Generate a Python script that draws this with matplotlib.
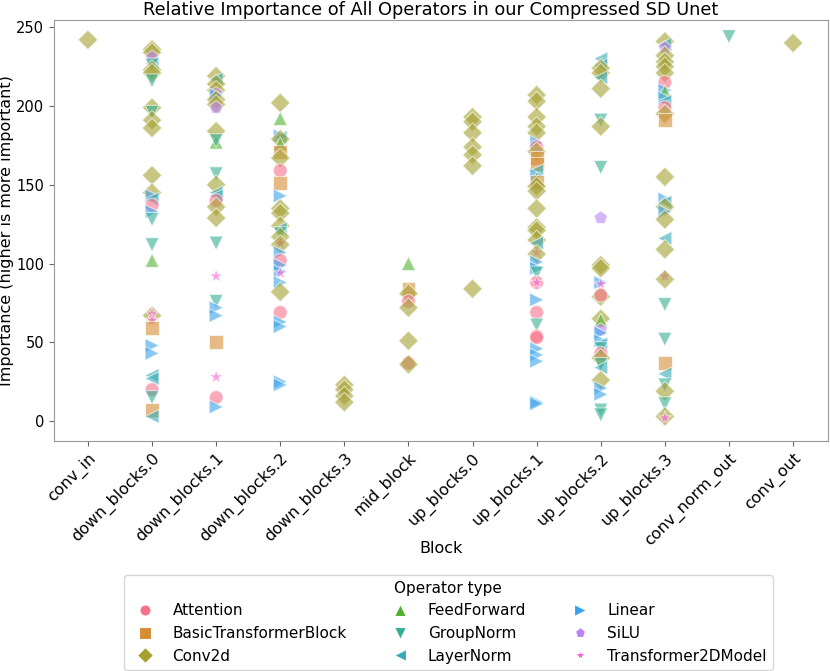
import pandas as pd
import matplotlib
matplotlib.use("Agg")
import matplotlib.pyplot as plt
import seaborn as sns

blocks = ["conv_in", "down_blocks.0", "down_blocks.1", "down_blocks.2", "down_blocks.3",
          "mid_block", "up_blocks.0", "up_blocks.1", "up_blocks.2", "up_blocks.3",
          "conv_norm_out", "conv_out"]

op_types = ["Attention", "BasicTransformerBlock", "Conv2d", "FeedForward", "GroupNorm",
            "LayerNorm", "Linear", "SiLU", "Transformer2DModel"]
short = dict(A="Attention", B="BasicTransformerBlock", C="Conv2d", F="FeedForward",
             G="GroupNorm", L="LayerNorm", Li="Linear", S="SiLU", T="Transformer2DModel")

# operators per block (short codes) and their importance
conv_in_ops = ["C"]
conv_in_vals = [242]

down0_ops = ["C", "C", "S", "L", "G", "C", "C", "G", "C", "G", "C", "C", "C", "C", "Li", "L", "A",
             "Li", "G", "G", "F", "C", "T", "T", "B", "Li", "Li", "L", "L", "A", "G", "B", "L"]
down0_vals = [236, 234, 231, 227, 226, 223, 221, 216, 199, 196, 191, 186, 156, 145, 143, 141, 137,
              133, 128, 112, 102, 67, 68, 64, 59, 48, 43, 29, 27, 20, 15, 7, 3]

down1_ops = ["C", "L", "C", "C", "S", "Li", "C", "C", "S", "C", "F", "G", "G", "C", "L", "L", "A",
             "C", "C", "G", "T", "G", "Li", "Li", "B", "T", "A", "Li"]
down1_vals = [219, 217, 214, 210, 208, 207, 204, 201, 199, 184, 177, 178, 157, 150, 145, 143, 140,
              136, 129, 113, 92, 76, 72, 67, 50, 28, 15, 9]

down2_ops = ["C", "F", "Li", "L", "C", "F", "B", "C", "A", "B", "Li", "C", "C", "C", "L", "G", "C",
             "T", "C", "Li", "A", "Li", "Li", "T", "Li", "C", "A", "Li", "Li", "Li", "Li"]
down2_vals = [202, 192, 181, 180, 179, 176, 171, 167, 159, 151, 143, 135, 132, 124, 122, 119, 117,
              113, 112, 107, 102, 99, 95, 94, 88, 82, 69, 63, 60, 25, 23]

down3_ops = ["C", "C", "C", "C"]
down3_vals = [23, 20, 16, 12]

mid_ops = ["F", "B", "C", "A", "C", "C", "A", "C"]
mid_vals = [100, 84, 81, 76, 72, 51, 37, 36]

up0_ops = ["C", "C", "C", "C", "C", "C", "C"]
up0_vals = [193, 190, 183, 174, 169, 162, 84]

up1_ops = ["C", "C", "C", "C", "C", "Li", "A", "C", "B", "B", "L", "Li", "F", "B", "C", "C", "C",
           "C", "C", "C", "L", "T", "C", "Li", "Li", "G", "A", "T", "Li", "A", "G", "A", "A", "Li",
           "Li", "Li", "Li", "Li"]
up1_vals = [207, 203, 193, 187, 183, 177, 174, 171, 167, 163, 159, 156, 154, 152, 149, 146, 135,
            123, 121, 115, 113, 107, 106, 101, 97, 94, 88, 88, 77, 69, 61, 54, 53, 46,
            42, 38, 12, 11]

up2_ops = ["L", "L", "C", "C", "L", "C", "G", "C", "G", "S", "C", "C", "Li", "T", "C", "A", "C",
           "F", "S", "Li", "Li", "L", "G", "A", "C", "G", "L", "C", "Li", "Li", "G", "G"]
up2_vals = [230, 226, 224, 221, 218, 211, 191, 187, 161, 129, 99, 97, 88, 87, 79, 80, 65,
            64, 58, 56, 51, 49, 46, 43, 40, 36, 34, 26, 21, 17, 7, 4]

up3_ops = ["C", "L", "S", "C", "C", "C", "C", "A", "Li", "F", "Li", "L", "A", "C", "B", "C", "Li",
           "L", "C", "Li", "C", "L", "C", "T", "C", "G", "G", "B", "L", "G", "C", "G", "C", "T"]
up3_vals = [241, 239, 237, 232, 228, 225, 221, 215, 210, 209, 205, 203, 199, 195, 191, 155, 141,
            139, 136, 133, 128, 116, 109, 92, 90, 74, 52, 37, 30, 23, 19, 11, 3, 2]

norm_out_ops = ["G"]
norm_out_vals = [244]

conv_out_ops = ["C"]
conv_out_vals = [240]

per_block = [(conv_in_ops, conv_in_vals), (down0_ops, down0_vals), (down1_ops, down1_vals),
             (down2_ops, down2_vals), (down3_ops, down3_vals), (mid_ops, mid_vals),
             (up0_ops, up0_vals), (up1_ops, up1_vals), (up2_ops, up2_vals),
             (up3_ops, up3_vals), (norm_out_ops, norm_out_vals), (conv_out_ops, conv_out_vals)]

rows = []
for block, (ops, vals) in zip(blocks, per_block):
    for o, v in zip(ops, vals):
        rows.append({"Block": block, "Importance": v, "Operator type": short[o]})
df = pd.DataFrame(rows)

fig = plt.figure(figsize=(8.3, 6.71), dpi=100)
ax = fig.add_axes([0.065, 0.343, 0.933, 0.627])

sns.scatterplot(data=df, x="Block", y="Importance", hue="Operator type",
                style="Operator type", hue_order=op_types, style_order=op_types,
                palette="husl", markers=["o", "s", "D", "^", "v", "<", ">", "p", "*"],
                s=100, alpha=0.6, ax=ax)

ax.set_xlim(-0.53, 11.55)
ax.set_ylim(-12.5, 254.5)
ax.set_title("Relative Importance of All Operators in our Compressed SD Unet",
             fontsize=12.8, pad=4, x=0.487)
ax.set_xlabel("Block", fontsize=11.5)
ax.set_ylabel("Importance (higher is more important)", fontsize=11.5)
ax.xaxis.set_label_coords(0.5, -0.238)
ax.yaxis.set_label_coords(-0.052, 0.5)
ax.tick_params(axis="x", labelsize=11.5, color="0.4")
ax.tick_params(axis="y", labelsize=10.5, color="0.4")
plt.setp(ax.get_xticklabels(), rotation=45, ha="right", rotation_mode="anchor")
for sp in ax.spines.values():
    sp.set_color("0.6")

sns.move_legend(ax, "upper center", bbox_to_anchor=(0.54, 0.155),
                bbox_transform=fig.transFigure, ncol=3, title="Operator type",
                fontsize=11, title_fontsize=11, frameon=True, markerscale=0.8,
                columnspacing=2.5)
leg = ax.get_legend()
for h in leg.legend_handles:
    h.set_alpha(1)

fig.savefig("out.png", dpi=100)
